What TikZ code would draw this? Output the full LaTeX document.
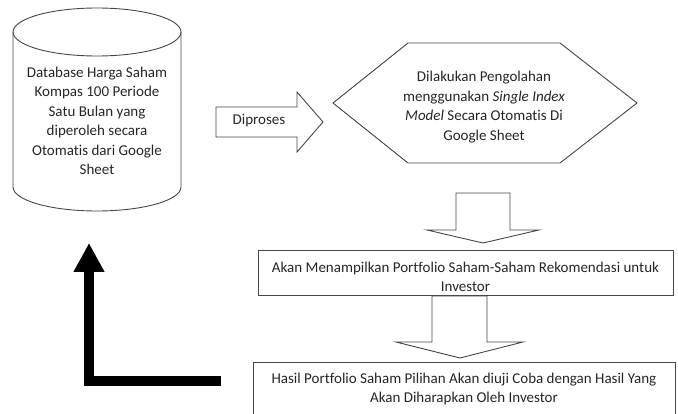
\documentclass[tikz,border=0pt]{standalone}
\usepackage{fontspec}
\setmainfont{Carlito}[Ligatures={NoCommon}]
\usetikzlibrary{arrows.meta}
\begin{document}
\begin{tikzpicture}[x=1pt,y=-1pt]
\tikzset{
  outl/.style={draw=black!72, line width=0.9pt, line join=miter},
  txt/.style={align=center, font=\fontsize{15}{19.5}\selectfont, text=black!85, inner sep=0pt},
  fat/.style={line width=9.5pt, line join=miter, -{Triangle[width=29pt,length=29pt]}}
}
\useasboundingbox (0,0) rectangle (678,414);
\clip (0,0) rectangle (678,414);
% cylinder
\draw[outl] (13,32) -- (13,187) arc[start angle=180, end angle=0, x radius=84, y radius=24] -- (181,32);
\draw[outl] (97,32) ellipse [x radius=84, y radius=24];
\node[txt] (db) at (97,121) {Database Harga Saham\\Kompas 100 Periode\\Satu Bulan yang\\diperoleh secara\\Otomatis dari Google\\Sheet};
% Diproses arrow
\draw[outl] (216,107) -- (297,107) -- (297,92) -- (323,122) -- (297,152) -- (297,137) -- (216,137) -- cycle;
\node[txt] (dip) at (259,121) {Diproses};
% hexagon
\draw[outl] (333,103) -- (408,43) -- (560,43) -- (637,103) -- (560,163) -- (408,163) -- cycle;
\node[txt] (hex) at (484,107) {Dilakukan Pengolahan\\menggunakan \textit{Single Index}\\\textit{Model} Secara Otomatis Di\\Google Sheet};
% down arrow 1
\draw[outl] (456,193) -- (510,193) -- (510,230) -- (539,230) -- (483,243) -- (427,230) -- (456,230) -- cycle;
% box 1
\draw[outl] (258,250) rectangle (673,295);
\node[txt] (b1) at (465.5,277) {Akan Menampilkan Portfolio Saham-Saham Rekomendasi untuk\\Investor};
% down arrow 2
\draw[outl] (432,296) -- (487,296) -- (487,342) -- (523,342) -- (460,358) -- (396,342) -- (432,342) -- cycle;
% box 2
\draw[outl] (253,362) rectangle (675,430);
\node[txt] (b2) at (464,389) {Hasil Portfolio Saham Pilihan Akan diuji Coba dengan Hasil Yang\\Akan Diharapkan Oleh Investor};
% thick return arrow
\coordinate (s) at (221,381);
\coordinate (c) at (89,381);
\coordinate (t) at (89,243);
\draw[fat] (s) -- (c) -- (t);
\end{tikzpicture}
\end{document}
